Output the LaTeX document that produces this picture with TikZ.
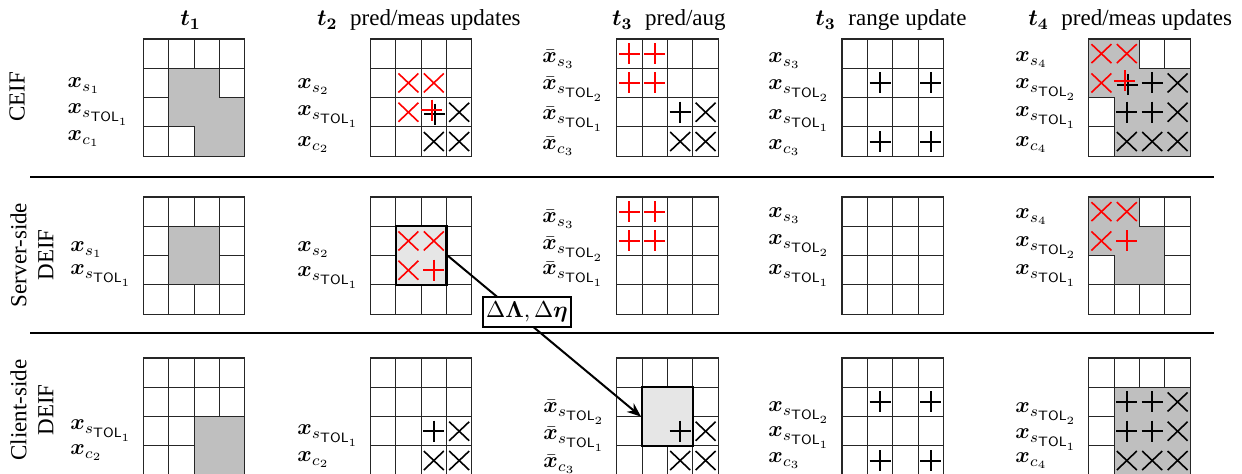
\RequirePackage{fix-cm}
\documentclass[tikz,border=0pt]{standalone}
\usepackage{amsmath}
\usepackage{bm}
\usepackage[no-math]{fontspec}
\setmainfont{Liberation Serif}
\usetikzlibrary{arrows.meta}
\definecolor{cellgray}{HTML}{BFBFBF}
\definecolor{lightfill}{HTML}{E6E6E6}
\definecolor{mred}{HTML}{FF0000}
\def\cw{25.4}
\def\ch{29.3}
\tikzset{
 gridline/.style={draw=black!85, line width=0.55pt},
 mkx/.style={line width=0.8pt, line cap=butt},
 mkp/.style={line width=1pt, line cap=butt},
 lblock/.style={draw=black, line width=1.1pt, fill=lightfill, minimum width=25.4pt, minimum height=29.3pt, inner sep=0pt},
 lab/.style={anchor=base west, inner sep=0pt, font=\fontsize{11}{13}\selectfont},
 hdr/.style={anchor=base west, inner sep=0pt, font=\fontsize{11.5}{14}\selectfont},
 rowlab/.style={rotate=90, align=center, inner sep=0pt, font=\fontsize{11.5}{13.5}\selectfont},
 sepline/.style={line width=1pt},
 conn/.style={line width=1pt, -{Stealth[length=7pt,width=5.5pt]}},
 deltabox/.style={draw, line width=1pt, fill=white, inner xsep=1.5pt, inner ysep=2.6pt, font=\fontsize{11.5}{14}\selectfont},
}
\newcommand{\vx}[1]{$\bm{x}_{#1}$}
\newcommand{\vbx}[1]{$\bar{\bm{x}}_{#1}$}
\newcommand{\stol}[1]{s_{\text{\fontsize{6.8}{7}\sffamily TOL}_{#1}}}
\newcommand{\drawgrid}[1]{%
  \foreach \pa/\pb/\pc/\pd [count=\gr] in {#1} {
    \foreach \v [count=\gc] in {\pa,\pb,\pc,\pd} {
      \ifnum\v=1 \fill[cellgray] ({(\gc-1)*\cw},{(\gr-1)*\ch}) rectangle ++(\cw,\ch);\fi
    }}
  \foreach \pa/\pb/\pc/\pd [count=\gr] in {#1} {
    \foreach \v [count=\gc] in {\pa,\pb,\pc,\pd} {
      \ifnum\v=0 \draw[gridline] ({(\gc-1)*\cw},{(\gr-1)*\ch}) rectangle ++(\cw,\ch);\fi
    }}
  \draw[gridline] (0,0) rectangle ({4*\cw},{4*\ch});
}
\newcommand{\mX}[3]{%
  \pgfmathsetmacro{\mkx}{(#2-.5)*\cw}\pgfmathsetmacro{\mky}{(#1-.5)*\ch}%
  \draw[mkx,#3] (\mkx-10,\mky-9.5) -- (\mkx+10,\mky+9.5);
  \draw[mkx,#3] (\mkx-10,\mky+9.5) -- (\mkx+10,\mky-9.5);}
\newcommand{\mP}[4][0,0]{%
  \pgfmathsetmacro{\mkx}{(#3-.5)*\cw}\pgfmathsetmacro{\mky}{(#2-.5)*\ch}%
  \draw[mkp,#4,shift={(#1)}] (\mkx-10.5,\mky) -- (\mkx+10.5,\mky);
  \draw[mkp,#4,shift={(#1)}] (\mkx,\mky-10.5) -- (\mkx,\mky+10.5);}
\begin{document}
\begin{tikzpicture}[x=0.5pt,y=-0.5pt]
\useasboundingbox (0,0) rectangle (1242,474);
% headers
\node[hdr] (h1) at (180,26) {$\bm{t_1}$};
\node[hdr] (h2) at (316.7,26) {$\bm{t_2}$\hspace{0.55em}pred/meas updates};
\node[hdr] (h3) at (611.7,26) {$\bm{t_3}$\hspace{0.55em}pred/aug};
\node[hdr] (h4) at (815,26) {$\bm{t_3}$\hspace{0.55em}range update};
\node[hdr] (h5) at (1028,26) {$\bm{t_4}$\hspace{0.55em}pred/meas updates};
% row labels
\node[rowlab] (r1) at (17,97) {CEIF};
\node[rowlab] (r2) at (32,255) {Server-side\\DEIF};
\node[rowlab] (r3) at (32,410) {Client-side\\DEIF};
% separators
\draw[sepline] (30,177) -- (1214,177);
\draw[sepline] (30,333.5) -- (1214,333.5);
% ================= ROW 1 =================
\begin{scope}[shift={(143.3,39)}]
 \drawgrid{0/0/0/0,0/1/1/0,0/1/1/1,0/0/1/1}
\end{scope}
\begin{scope}[shift={(370.3,39)}]
 \drawgrid{0/0/0/0,0/0/0/0,0/0/0/0,0/0/0/0}
 \mX{2}{2}{mred}\mX{2}{3}{mred}\mX{3}{2}{mred}
 \mP[1,2]{3}{3}{black}\mP[-2,-2]{3}{3}{mred}
 \mX{3}{4}{black}\mX{4}{3}{black}\mX{4}{4}{black}
\end{scope}
\begin{scope}[shift={(616.7,39)}]
 \drawgrid{0/0/0/0,0/0/0/0,0/0/0/0,0/0/0/0}
 \mP{1}{1}{mred}\mP{1}{2}{mred}\mP{2}{1}{mred}\mP{2}{2}{mred}
 \mP{3}{3}{black}\mX{3}{4}{black}\mX{4}{3}{black}\mX{4}{4}{black}
\end{scope}
\begin{scope}[shift={(842,39)}]
 \drawgrid{0/0/0/0,0/0/0/0,0/0/0/0,0/0/0/0}
 \mP{2}{2}{black}\mP{2}{4}{black}\mP{4}{2}{black}\mP{4}{4}{black}
\end{scope}
\begin{scope}[shift={(1088.7,39)}]
 \drawgrid{1/1/0/0,1/1/1/1,0/1/1/1,0/1/1/1}
 \mX{1}{1}{mred}\mX{1}{2}{mred}\mX{2}{1}{mred}
 \mP[1,2]{2}{2}{black}\mP[-2,-2]{2}{2}{mred}
 \mP{2}{3}{black}\mX{2}{4}{black}
 \mP{3}{2}{black}\mP{3}{3}{black}\mX{3}{4}{black}
 \mX{4}{2}{black}\mX{4}{3}{black}\mX{4}{4}{black}
\end{scope}
% labels row 1
\node[lab] (l111) at (67.3,88) {\vx{s_1}};
\node[lab] (l112) at (67.3,114) {\vx{\stol{1}}};
\node[lab] (l113) at (67.3,141) {\vx{c_1}};
\node[lab] (l121) at (297,89) {\vx{s_2}};
\node[lab] (l122) at (297,116) {\vx{\stol{1}}};
\node[lab] (l123) at (297,147) {\vx{c_2}};
\node[lab] (l131) at (542,63) {\vbx{s_3}};
\node[lab] (l132) at (542,90) {\vbx{\stol{2}}};
\node[lab] (l133) at (542,120) {\vbx{\stol{1}}};
\node[lab] (l134) at (542,150) {\vbx{c_3}};
\node[lab] (l141) at (768,63) {\vx{s_3}};
\node[lab] (l142) at (768,90) {\vx{\stol{2}}};
\node[lab] (l143) at (768,120) {\vx{\stol{1}}};
\node[lab] (l144) at (768,150) {\vx{c_3}};
\node[lab] (l151) at (1015,62) {\vx{s_4}};
\node[lab] (l152) at (1015,89) {\vx{\stol{2}}};
\node[lab] (l153) at (1015,117) {\vx{\stol{1}}};
\node[lab] (l154) at (1015,147) {\vx{c_4}};
% ================= ROW 2 =================
\begin{scope}[shift={(143.3,197)}]
 \drawgrid{0/0/0/0,0/1/1/0,0/1/1/0,0/0/0/0}
\end{scope}
\begin{scope}[shift={(370.3,197)}]
 \drawgrid{0/0/0/0,0/2/2/0,0/2/2/0,0/0/0/0}
 \node[lblock] (blockA) at ({2*\cw},{2*\ch}) {};
 \mX{2}{2}{mred}\mX{2}{3}{mred}\mX{3}{2}{mred}\mP{3}{3}{mred}
\end{scope}
\begin{scope}[shift={(616.7,197)}]
 \drawgrid{0/0/0/0,0/0/0/0,0/0/0/0,0/0/0/0}
 \mP{1}{1}{mred}\mP{1}{2}{mred}\mP{2}{1}{mred}\mP{2}{2}{mred}
\end{scope}
\begin{scope}[shift={(842,197)}]
 \drawgrid{0/0/0/0,0/0/0/0,0/0/0/0,0/0/0/0}
\end{scope}
\begin{scope}[shift={(1088.7,197)}]
 \drawgrid{1/1/0/0,1/1/1/0,0/1/1/0,0/0/0/0}
 \mX{1}{1}{mred}\mX{1}{2}{mred}\mX{2}{1}{mred}\mP{2}{2}{mred}
\end{scope}
% labels row 2
\node[lab] (l211) at (70,252) {\vx{s_1}};
\node[lab] (l212) at (70,275) {\vx{\stol{1}}};
\node[lab] (l221) at (297,252) {\vx{s_2}};
\node[lab] (l222) at (297,277) {\vx{\stol{1}}};
\node[lab] (l231) at (542,223) {\vbx{s_3}};
\node[lab] (l232) at (542,250) {\vbx{\stol{2}}};
\node[lab] (l233) at (542,275) {\vbx{\stol{1}}};
\node[lab] (l241) at (768,218) {\vx{s_3}};
\node[lab] (l242) at (768,245) {\vx{\stol{2}}};
\node[lab] (l243) at (768,275) {\vx{\stol{1}}};
\node[lab] (l251) at (1015,219) {\vx{s_4}};
\node[lab] (l252) at (1015,247) {\vx{\stol{2}}};
\node[lab] (l253) at (1015,275) {\vx{\stol{1}}};
% ================= ROW 3 =================
\begin{scope}[shift={(143.3,358)}]
 \drawgrid{0/0/0/0,0/0/0/0,0/0/1/1,0/0/1/1}
\end{scope}
\begin{scope}[shift={(370.3,358)}]
 \drawgrid{0/0/0/0,0/0/0/0,0/0/0/0,0/0/0/0}
 \mP{3}{3}{black}\mX{3}{4}{black}\mX{4}{3}{black}\mX{4}{4}{black}
\end{scope}
\begin{scope}[shift={(616.7,358)}]
 \drawgrid{0/0/0/0,0/2/2/0,0/2/2/0,0/0/0/0}
 \node[lblock] (blockB) at ({2*\cw},{2*\ch}) {};
 \mP{3}{3}{black}\mX{3}{4}{black}\mX{4}{3}{black}\mX{4}{4}{black}
\end{scope}
\begin{scope}[shift={(842,358)}]
 \drawgrid{0/0/0/0,0/0/0/0,0/0/0/0,0/0/0/0}
 \mP{2}{2}{black}\mP{2}{4}{black}\mP{4}{2}{black}\mP{4}{4}{black}
\end{scope}
\begin{scope}[shift={(1088.7,358)}]
 \drawgrid{0/0/0/0,0/1/1/1,0/1/1/1,0/1/1/1}
 \mP{2}{2}{black}\mP{2}{3}{black}\mX{2}{4}{black}
 \mP{3}{2}{black}\mP{3}{3}{black}\mX{3}{4}{black}
 \mX{4}{2}{black}\mX{4}{3}{black}\mX{4}{4}{black}
\end{scope}
% labels row 3
\node[lab] (l311) at (70,430) {\vx{\stol{1}}};
\node[lab] (l312) at (70,455) {\vx{c_2}};
\node[lab] (l321) at (297,435) {\vx{\stol{1}}};
\node[lab] (l322) at (297,462) {\vx{c_2}};
\node[lab] (l331) at (543,413) {\vbx{\stol{2}}};
\node[lab] (l332) at (543,440) {\vbx{\stol{1}}};
\node[lab] (l333) at (543,468) {\vbx{c_3}};
\node[lab] (l341) at (768,412) {\vx{\stol{2}}};
\node[lab] (l342) at (768,437) {\vx{\stol{1}}};
\node[lab] (l343) at (768,463) {\vx{c_3}};
\node[lab] (l351) at (1015,413) {\vx{\stol{2}}};
\node[lab] (l352) at (1015,439) {\vx{\stol{1}}};
\node[lab] (l353) at (1015,463) {\vx{c_4}};
% connector
\draw[conn] (blockA.east) -- node[deltabox, pos=0.4, xshift=1pt, yshift=4pt] (delta) {$\Delta\bm{\Lambda},\Delta\bm{\eta}$} (blockB.west);
\end{tikzpicture}
\end{document}
